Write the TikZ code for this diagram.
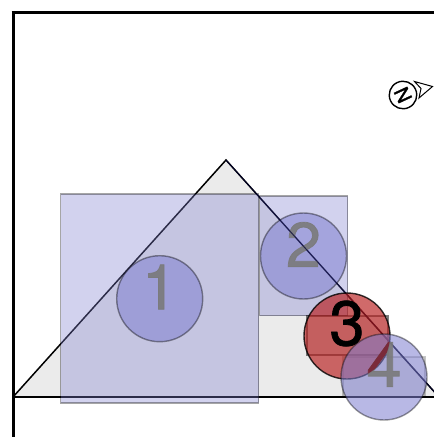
\documentclass[tikz,border=0pt]{standalone}
\usepackage{fontspec}
\setmainfont{TeX Gyre Heros}
\newfontfamily\digfont[FakeBold=1.2]{TeX Gyre Heros}
\newfontfamily\compfont[FakeBold=1.5]{TeX Gyre Heros}
\definecolor{tri}{HTML}{EBEBEB}
\definecolor{blu}{HTML}{7F7FD0}
\definecolor{redd}{HTML}{B81E1E}
\definecolor{overlapdigit}{HTML}{7A2A3A}
\tikzset{
  zone/.style={draw=black,draw opacity=0.35,line width=1.2pt,fill=blu,fill opacity=0.35},
  zonefaint/.style={draw=black,draw opacity=0.22,line width=1.2pt,fill=black,fill opacity=0.05},
  zonedark/.style={draw=black,draw opacity=0.5,line width=1.1pt,fill=black,fill opacity=0.06},
  bub/.style={circle,draw=black,draw opacity=0.4,line width=1.4pt,fill=blu,fill opacity=0.55,minimum size=86pt,inner sep=0pt},
  bubred/.style={circle,draw=black,draw opacity=0.8,line width=1.4pt,fill=redd,fill opacity=0.66,minimum size=86pt,inner sep=0pt},
  digit/.style={inner sep=0pt,text=black!52,text opacity=0.9,font=\fontsize{63}{63}\digfont},
  digitover/.style={inner sep=0pt,text=overlapdigit,font=\fontsize{63}{63}\digfont},
  digitdark/.style={inner sep=0pt,text=black,font=\fontsize{63}{63}\digfont},
}
\begin{document}
\begin{tikzpicture}[x=1pt,y=-1pt]
\useasboundingbox (0,0) rectangle (434,437);
\clip (0,0) rectangle (434,437);
\fill[white] (0,0) rectangle (434,437);
\coordinate (tl) at (13,397);
\coordinate (ta) at (226,160);
\coordinate (tr) at (439,397);
\fill[tri] (tl) -- (ta) -- (tr) -- cycle;
\draw[line width=1.5pt] (tl) -- (ta) -- (tr);
\draw[line width=1.5pt] (tl) -- (tr);
\draw[line width=3pt] (13,437) -- (13,12);
\draw[line width=2.2pt] (11.5,12.5) -- (434,12.5);
\draw[zone] (60.5,194) rectangle (258.5,403);
\draw[zone] (259.5,196) rectangle (347.5,315.5);
\draw[zonefaint] (343,357) rectangle (425,397);
\draw[zonedark] (307,316) rectangle (388,355);
\node[bub] (n1) at (159.7,298.7) {};
\node[digit] (d1) at (159.7,287) {1};
\node[bub] (n2) at (303.5,256) {};
\node[digit] (d2) at (303.5,244.5) {2};
\draw[line width=1pt,draw=blue!20!black,draw opacity=0.7] (ta) -- (tr);
\node[bubred] (n3) at (347,336) {};
\node[bub] (n4) at (384,377) {};
\node[digit] (d4) at (384,364.5) {4};
\begin{scope}
\clip (347,336) circle (43);
\node[digitover] (d4b) at (384,364.5) {4};
\end{scope}
\node[digitdark] (d3) at (347,323.5) {3};
\node[circle,draw,line width=1.4pt,minimum size=27.5pt,inner sep=0pt,font=\fontsize{20}{20}\compfont,rotate=-65] (north) at (403,95) {N};
\draw[line width=1pt,line join=miter,fill=white] (414.5,81.5) -- (432.5,86.5) -- (419,98) -- (421,88.5) -- cycle;
\end{tikzpicture}
\end{document}
